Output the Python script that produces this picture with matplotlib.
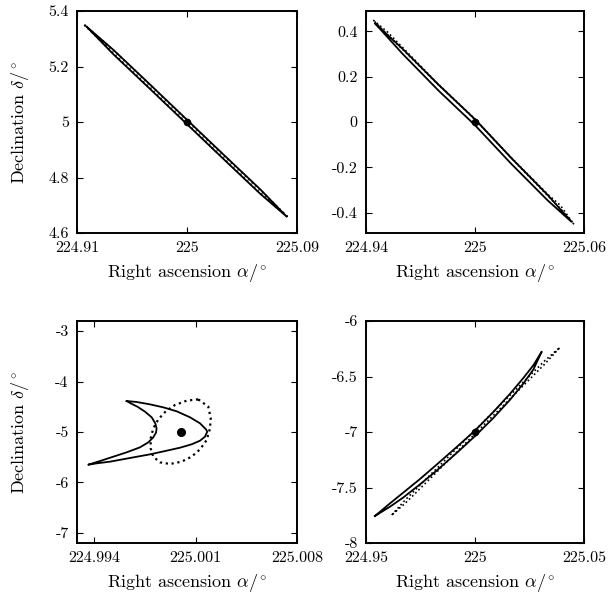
import matplotlib
matplotlib.use("Agg")
import matplotlib.pyplot as plt

plt.rcParams['font.family'] = 'serif'
plt.rcParams['font.serif'] = ['cmr10']
plt.rcParams['mathtext.fontset'] = 'cm'
plt.rcParams['axes.unicode_minus'] = False
plt.rcParams['axes.formatter.use_mathtext'] = True

# ---------------- data (degrees) ----------------
# Panel A (top-left)
a_x = [224.918, 224.94, 224.97, 225.0, 225.03, 225.06, 225.0816]
a_solid_up = [5.343, 5.259, 5.134, 5.008, 4.882, 4.757, 4.659]
a_solid_lo = [5.343, 5.243, 5.118, 4.992, 4.866, 4.741, 4.659]
a_dot_x = [224.916, 224.94, 224.97, 225.0, 225.03, 225.06, 225.083]
a_dot_up = [5.350, 5.258, 5.133, 5.006, 4.880, 4.755, 4.655]
a_dot_lo = [5.350, 5.246, 5.121, 4.994, 4.868, 4.743, 4.655]
a_center = (225.0, 5.0)

# Panel B (top-right)
b_x = [224.945, 224.96, 224.98, 225.0, 225.02, 225.04, 225.053]
b_solid_up = [0.435, 0.324, 0.164, 0.012, -0.159, -0.322, -0.440]
b_solid_lo = [0.435, 0.302, 0.138, -0.014, -0.185, -0.346, -0.440]
b_dot_x = [224.9440, 224.952, 224.96, 224.98, 225.0, 225.02, 225.04, 225.047, 225.0545]
b_dot_up = [0.450, 0.396, 0.330, 0.165, 0.013, -0.158, -0.319, -0.368, -0.452]
b_dot_lo = [0.450, 0.384, 0.322, 0.163, 0.011, -0.160, -0.325, -0.382, -0.452]
b_center = (225.0, 0.0)

# Panel C (bottom-left)
c_solid_x = [224.99623, 224.99692, 224.99784, 224.99876, 224.99969, 225.00061,
             225.00130, 225.00171, 225.00180, 225.00164, 225.00130, 225.00072,
             224.99992, 224.99900, 224.99784, 224.99646, 224.99508, 224.99416,
             224.99358, 224.99439, 224.99531, 224.99623, 224.99715, 224.99773,
             224.99807, 224.99826, 224.99830, 224.99821, 224.99796, 224.99750,
             224.99697, 224.99651, 224.99623]
c_solid_y = [-4.386, -4.405, -4.452, -4.511, -4.590, -4.709,
             -4.828, -4.947, -4.993, -5.093, -5.172, -5.244,
             -5.311, -5.370, -5.443, -5.515, -5.588, -5.621,
             -5.648, -5.575, -5.489, -5.403, -5.304, -5.205,
             -5.106, -5.013, -4.927, -4.828, -4.709, -4.597,
             -4.498, -4.432, -4.386]
c_dot_x = [225.00118, 225.00187, 225.00204, 225.00199, 225.00176, 225.00130,
           225.00072, 225.00003, 224.99923, 224.99853, 224.99807, 224.99789,
           224.99789, 224.99807, 224.99842, 224.99895, 224.99957, 225.00038,
           225.00118]
c_dot_y = [-4.353, -4.498, -4.729, -4.927, -5.159, -5.344,
           -5.489, -5.588, -5.634, -5.601, -5.489, -5.324,
           -5.126, -4.927, -4.749, -4.584, -4.465, -4.379,
           -4.353]
c_center = (225.0, -5.0)

# Panel D (bottom-right)
d_x = [224.9541, 224.9610, 224.9671, 224.9748, 224.9824, 224.9916,
       225.0000, 225.0084, 225.0161, 225.0222, 225.0268, 225.0306]
d_solid_up = [-7.757, -7.643, -7.546, -7.423, -7.294, -7.135,
              -6.987, -6.820, -6.655, -6.513, -6.398, -6.276]
d_solid_lo = [-7.757, -7.673, -7.590, -7.471, -7.348, -7.189,
              -7.037, -6.874, -6.709, -6.563, -6.436, -6.276]
d_dot_x = [224.9618, 224.9680, 224.975, 224.9875, 225.0, 225.0125,
           225.025, 225.032, 225.039]
d_dot_up = [-7.748, -7.612, -7.474, -7.229, -6.984, -6.739, -6.494, -6.358, -6.237]
d_dot_lo = [-7.748, -7.642, -7.506, -7.261, -7.016, -6.771, -6.526, -6.388, -6.237]
d_center = (225.0, -7.0)

# axis limits & ticks
a_xlim, a_ylim = (224.91, 225.09), (4.6, 5.4)
a_xt, a_xtl = [224.91, 225.0, 225.09], ['224.91', '225', '225.09']
a_yt, a_ytl = [4.6, 4.8, 5.0, 5.2, 5.4], ['4.6', '4.8', '5', '5.2', '5.4']
b_xlim, b_ylim = (224.94, 225.06), (-0.49, 0.49)
b_xt, b_xtl = [224.94, 225.0, 225.06], ['224.94', '225', '225.06']
b_yt, b_ytl = [-0.4, -0.2, 0.0, 0.2, 0.4], ['-0.4', '-0.2', '0', '0.2', '0.4']
c_xlim, c_ylim = (224.9928, 225.008), (-7.2, -2.8)
c_xt, c_xtl = [224.994, 225.001, 225.008], ['224.994', '225.001', '225.008']
c_yt, c_ytl = [-7, -6, -5, -4, -3], ['-7', '-6', '-5', '-4', '-3']
d_xlim, d_ylim = (224.95, 225.05), (-8.0, -6.0)
d_xt, d_xtl = [224.95, 225.0, 225.05], ['224.95', '225', '225.05']
d_yt, d_ytl = [-8, -7.5, -7, -6.5, -6], ['-8', '-7.5', '-7', '-6.5', '-6']

xlabel = r'Right ascension $\alpha/^{\!\circ}$'
ylabel = r'Declination $\delta/^{\!\circ}$'

W, H = 610, 601
fig = plt.figure(figsize=(W / 100, H / 100), dpi=100)

def box(l, t, r, b):
    return [l / W, 1 - b / H, (r - l) / W, (b - t) / H]

axA = fig.add_axes(box(77, 11, 297, 233))
axB = fig.add_axes(box(366, 11, 584, 233))
axC = fig.add_axes(box(77, 321, 297, 543))
axD = fig.add_axes(box(366, 321, 584, 543))

FS = 11.5
LFS = 13
LW = 1.3

def style(ax, xlim, ylim, xt, xtl, yt, ytl, ylab):
    ax.set_xlim(*xlim)
    ax.set_ylim(*ylim)
    ax.set_xticks(xt)
    ax.set_xticklabels(xtl, fontsize=FS)
    ax.set_yticks(yt)
    ax.set_yticklabels(ytl, fontsize=FS)
    ax.tick_params(direction='in', length=4, width=0.8, top=True, right=True,
                   pad=6)
    for s in ax.spines.values():
        s.set_linewidth(1.4)
    ax.set_xlabel(xlabel, fontsize=LFS)
    ax.xaxis.set_label_coords(0.5, -0.13)
    if ylab:
        ax.set_ylabel(ylabel, fontsize=LFS)
        ax.yaxis.set_label_coords(-0.21, 0.5)

def loop(ax, x, up, lo, ls, lw=LW):
    xs = list(x) + list(x[::-1])
    ys = list(up) + list(lo[::-1])
    ax.plot(xs, ys, color='black', linestyle=ls, linewidth=lw)

# Panel A
loop(axA, a_dot_x, a_dot_up, a_dot_lo, ':')
loop(axA, a_x, a_solid_up, a_solid_lo, '-')
axA.plot(*a_center, 'o', color='black', markersize=4.5)
style(axA, a_xlim, a_ylim, a_xt, a_xtl, a_yt, a_ytl, True)

# Panel B
loop(axB, b_dot_x, b_dot_up, b_dot_lo, ':', 1.2)
loop(axB, b_x, b_solid_up, b_solid_lo, '-')
axB.plot(*b_center, 'o', color='black', markersize=4.5)
style(axB, b_xlim, b_ylim, b_xt, b_xtl, b_yt, b_ytl, False)

# Panel C
axC.plot(c_dot_x, c_dot_y, color='black', linestyle=':', linewidth=1.6)
axC.plot(c_solid_x, c_solid_y, color='black', linestyle='-', linewidth=LW)
axC.plot(*c_center, 'o', color='black', markersize=5.5)
style(axC, c_xlim, c_ylim, c_xt, c_xtl, c_yt, c_ytl, True)

# Panel D
loop(axD, d_dot_x, d_dot_up, d_dot_lo, ':', 1.2)
loop(axD, d_x, d_solid_up, d_solid_lo, '-')
axD.plot(*d_center, 'o', color='black', markersize=4.5)
style(axD, d_xlim, d_ylim, d_xt, d_xtl, d_yt, d_ytl, False)

fig.savefig('out.png', dpi=100)
